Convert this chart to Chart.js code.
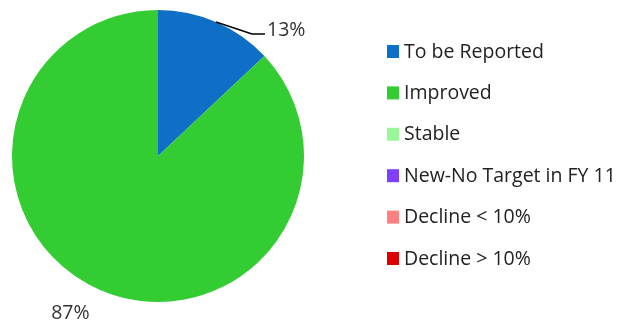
<!DOCTYPE html>
<html>
<head>
<meta charset="utf-8">
<script src="https://cdn.jsdelivr.net/npm/chart.js@4/dist/chart.umd.min.js"></script>
<style>
    html, body { margin: 0; padding: 0; background: #fff; }
    #wrap { width: 621px; height: 322px; position: relative; }
</style>
</head>
<body>
<div id="wrap"><canvas id="statusPie" width="621" height="322"></canvas></div>
<script>
const categories = ['To be Reported', 'Improved', 'Stable', 'New-No Target in FY 11', 'Decline < 10%', 'Decline > 10%'];
const shares = [13, 87, 0, 0, 0, 0];
const sliceColors = ['#0F6FC6', '#33CC33', '#99F799', '#7F3FFF', '#FF8080', '#DD0000'];

const labelFont = '19.5px "Open Sans", "Noto Sans", sans-serif';

// draws the percent labels and the legend on the right
const extras = {
    id: 'extras',
    afterDraw: function(chart) {
        const ctx = chart.ctx;
        const meta = chart.getDatasetMeta(0);

        ctx.save();
        ctx.font = labelFont;
        ctx.fillStyle = '#333';
        ctx.textBaseline = 'middle';

        meta.data.forEach(function(arc, i) {
            if (!shares[i]) {
                return;
            }
            const mid = (arc.startAngle + arc.endAngle) / 2;
            const r = arc.outerRadius;
            const sx = arc.x + Math.cos(mid) * r;
            const sy = arc.y + Math.sin(mid) * r;
            const text = shares[i] + '%';

            if (i === 0) {
                // small slice gets a leader line
                ctx.strokeStyle = '#000';
                ctx.lineWidth = 1.5;
                ctx.beginPath();
                ctx.moveTo(sx, sy);
                ctx.lineTo(sx + 36, sy + 12);
                ctx.lineTo(sx + 49, sy + 12);
                ctx.stroke();
                ctx.textAlign = 'left';
                ctx.fillText(text, sx + 51, sy + 8);
            } else {
                ctx.textAlign = 'center';
                ctx.fillText(text, arc.x + Math.cos(mid + 0.1) * (r + 34), arc.y + Math.sin(mid + 0.1) * (r + 34));
            }
        });

        ctx.textAlign = 'left';
        categories.forEach(function(name, i) {
            const y = 52 + i * 41.4;
            ctx.fillStyle = sliceColors[i];
            ctx.fillRect(387, y - 7, 12, 13);
            ctx.fillStyle = '#222';
            ctx.fillText(name, 404, y);
        });
        ctx.restore();
    }
};

const pie = new Chart(document.getElementById('statusPie').getContext('2d'), {
    type: 'pie',
    data: {
        labels: categories,
        datasets: [{
            data: shares,
            backgroundColor: sliceColors,
            borderWidth: 0
        }]
    },
    options: {
        responsive: false,
        animation: false,
        layout: {
            padding: { left: 12, right: 317, top: 10, bottom: 20 }
        },
        plugins: {
            legend: { display: false },
            tooltip: { enabled: false }
        }
    },
    plugins: [extras]
});
</script>
</body>
</html>
